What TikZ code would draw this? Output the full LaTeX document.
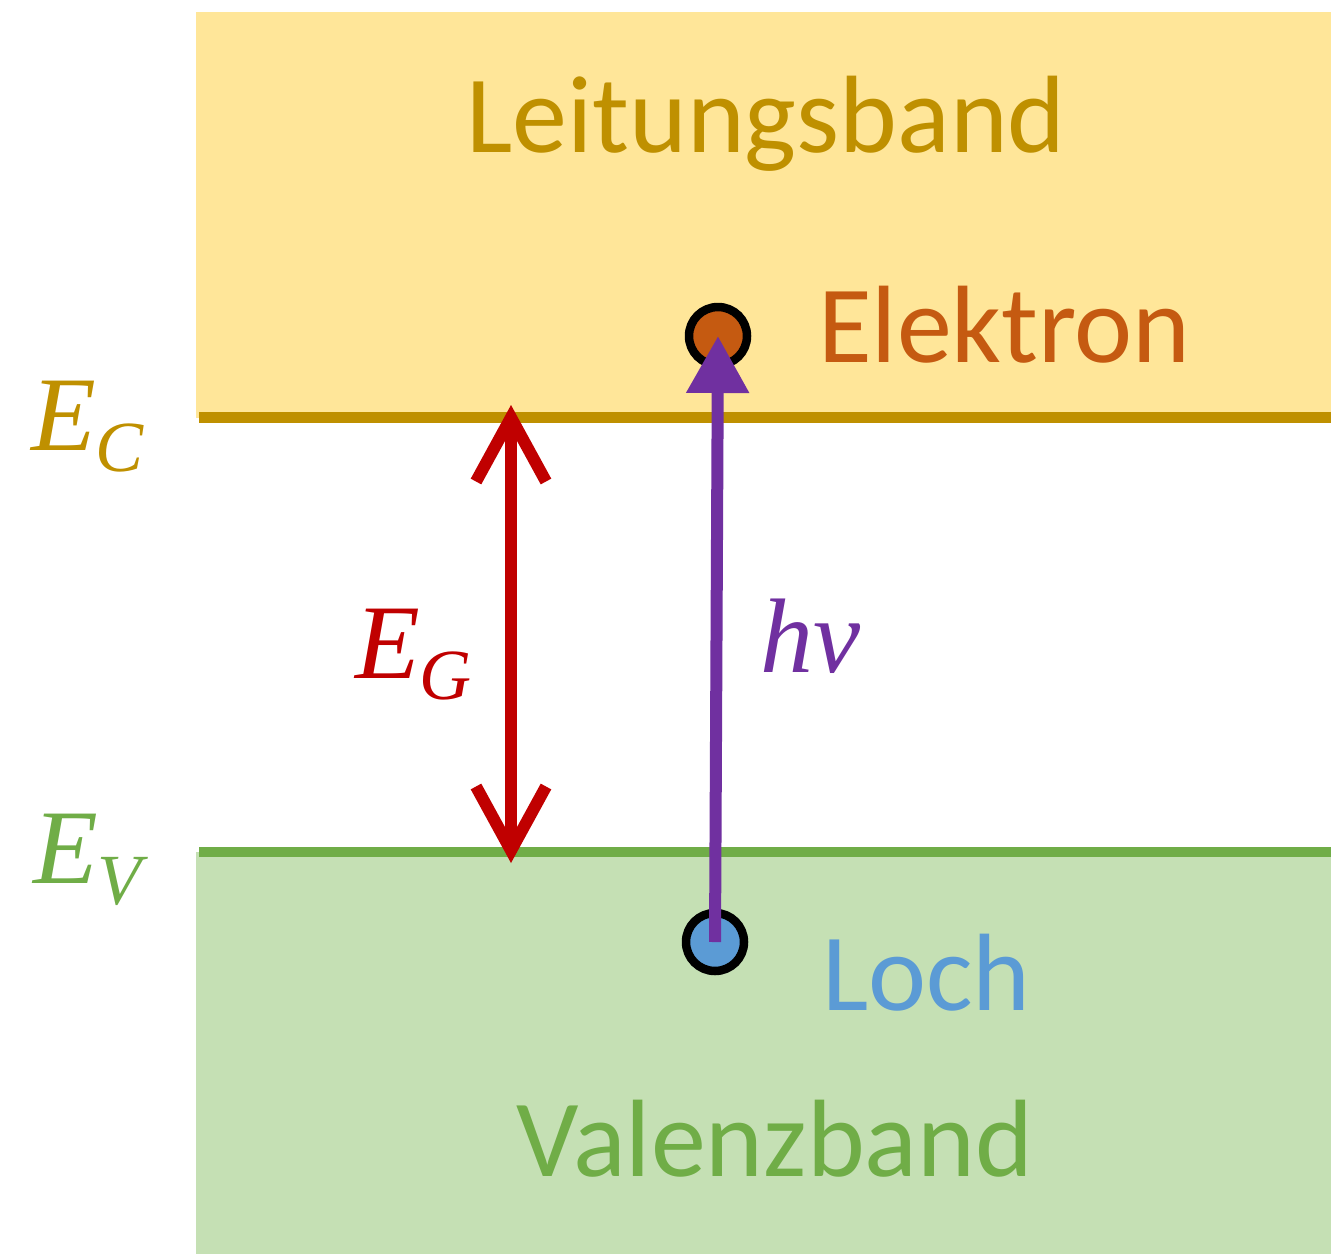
\documentclass[tikz,border=0pt]{standalone}
\usepackage{fontspec}
\setmainfont{Carlito}
\newfontfamily\symfnt{Liberation Serif}
\usetikzlibrary{arrows.meta}
\definecolor{bandY}{HTML}{FFE699}
\definecolor{lineY}{HTML}{BF9000}
\definecolor{bandG}{HTML}{C5E0B4}
\definecolor{lineG}{HTML}{70AD47}
\definecolor{gapred}{HTML}{C00000}
\definecolor{photon}{HTML}{7030A0}
\definecolor{elec}{HTML}{C55A11}
\definecolor{holec}{HTML}{5B9BD5}
\newcommand\lowsub[1]{\raisebox{-21pt}{\fontsize{72}{76}\selectfont #1}}
\tikzset{
  lbl/.style={inner sep=0pt, font=\fontsize{110}{114}\selectfont},
  mlbl/.style={inner sep=0pt, font=\symfnt\itshape\fontsize{106}{110}\selectfont},
  carrier/.style={circle, draw=black, line width=8.5pt, minimum size=58pt, inner sep=0pt},
}
\begin{document}
\begin{tikzpicture}[x=1pt,y=-1pt]
\useasboundingbox (0,0) rectangle (1331,1254);
% bands
\fill[bandY] (196,12) rectangle (1331,417.5);
\fill[bandG] (196,852) rectangle (1331,1254);
\coordinate (ecL) at (199,417.5);
\coordinate (ecR) at (1331,417.5);
\coordinate (evL) at (199,852);
\coordinate (evR) at (1331,852);
\draw[lineY, line width=11pt] (ecL) -- (ecR);
\draw[lineG, line width=10pt] (evL) -- (evR);
% carriers
\node[carrier, fill=elec] (el) at (718,336) {};
\node[carrier, fill=holec] (ho) at (715,942) {};
% photon arrow
\draw[photon, line width=12pt, -{Triangle[length=57pt,width=60pt]}] (ho.center) -- (el.center);
% gap arrow
\coordinate (gtop) at (511,405);
\coordinate (gbot) at (511,863);
\draw[gapred, line width=12pt, {Straight Barb[length=64pt,width=70pt,sharp]}-{Straight Barb[length=64pt,width=70pt,sharp]}] (gtop) -- (gbot);
% texts
\node[lbl, anchor=base, text=lineY] (tLB) at (766,152) {Leitungsband};
\node[lbl, anchor=base, text=lineG] (tVB) at (775,1176) {Valenzband};
\node[lbl, anchor=base west, text=elec] (tEl) at (818,362) {Elektron};
\node[lbl, anchor=base west, text=holec] (tLo) at (822,1010) {Loch};
\node[mlbl, anchor=base west, text=lineY] (tEC) at (31,450) {E\lowsub{C}};
\node[mlbl, anchor=base west, text=lineG] (tEV) at (33,883) {E\lowsub{V}};
\node[mlbl, anchor=base west, text=gapred] (tEG) at (355,678) {E\lowsub{G}};
\node[mlbl, anchor=base west, text=photon] (tHv) at (760,672) {hν};
\end{tikzpicture}
\end{document}
